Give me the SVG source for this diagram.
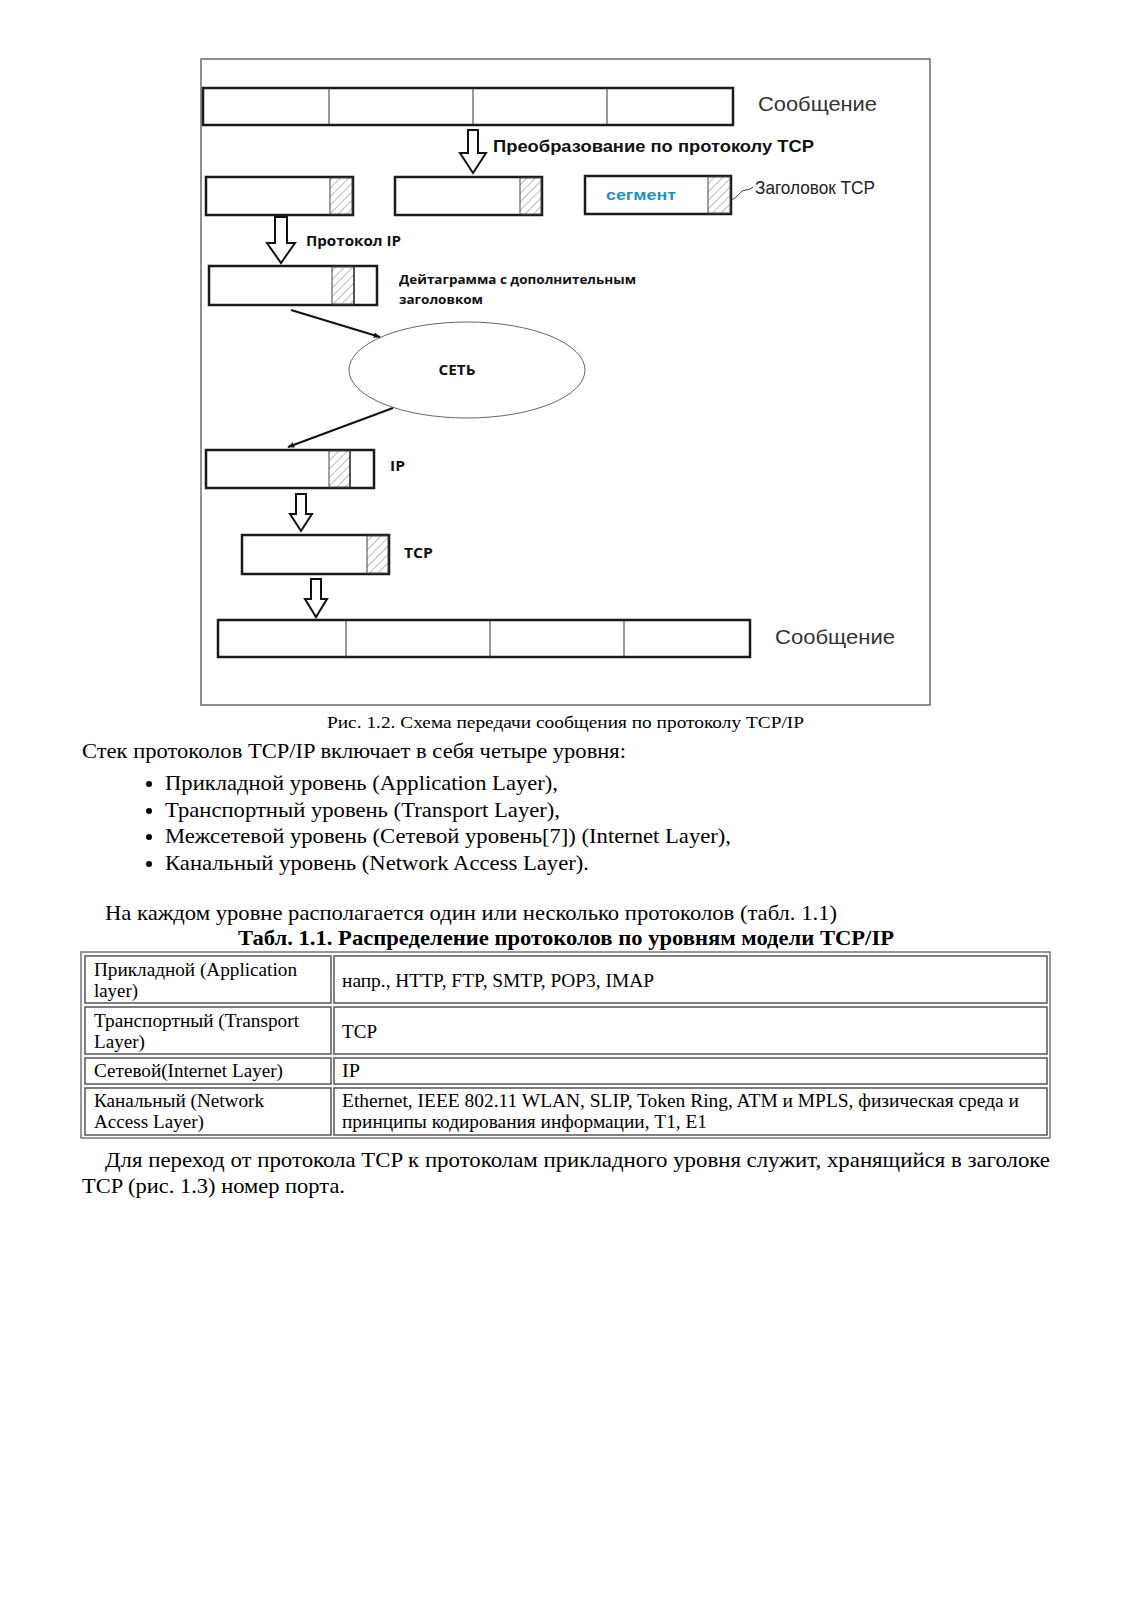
<svg xmlns="http://www.w3.org/2000/svg" width="1132" height="1600" viewBox="0 0 1132 1600">
<style>
.bx{fill:#fff;stroke:#1a1a1a;stroke-width:2.5}
.dv{stroke:#333;stroke-width:1}
.ha{fill:url(#hatch);stroke:#444;stroke-width:1}
.ar{fill:#fff;stroke:#111;stroke-width:2;stroke-linejoin:miter}
.sans{font-family:"Liberation Sans",Arial,sans-serif}
.bs{font-family:"Open Sans","Liberation Sans",sans-serif;font-weight:bold;fill:#111}
.serif{font-family:"Liberation Serif","Times New Roman",serif;fill:#000}
.cell{fill:#fff;stroke:#555;stroke-width:1.5}
</style>
<defs>
<pattern id="hatch" width="6" height="6" patternUnits="userSpaceOnUse" patternTransform="rotate(45)">
<rect width="6" height="6" fill="#fff"/>
<line x1="0" y1="0" x2="0" y2="6" stroke="#777" stroke-width="1"/>
</pattern>
<marker id="ah" viewBox="0 0 10 10" refX="9" refY="5" markerWidth="7" markerHeight="7" orient="auto" markerUnits="userSpaceOnUse">
<path d="M0,1 L10,5 L0,9 z" fill="#111"/>
</marker>
</defs>
<rect width="1132" height="1600" fill="#fff"/>
<rect x="201" y="59" width="729" height="646" fill="#fff" stroke="#555" stroke-width="1.3"/>

<g id="msg-top">
<rect class="bx" x="203" y="88" width="530" height="37" stroke-width="3"/>
<line class="dv" x1="329" y1="88" x2="329" y2="125"/>
<line class="dv" x1="473" y1="88" x2="473" y2="125"/>
<line class="dv" x1="607" y1="88" x2="607" y2="125"/>
<text class="sans" x="758" y="111" font-size="20" fill="#333" textLength="119" lengthAdjust="spacingAndGlyphs">Сообщение</text>
</g>

<g id="arrow-tcp">
<path class="ar" d="M468,130 H478 V153 H486 L473,173 L460,153 H468 Z"/>
<text class="sans" x="493" y="152" font-size="17" font-weight="bold" fill="#111" textLength="321" lengthAdjust="spacingAndGlyphs">Преобразование по протоколу TCP</text>
</g>

<g id="seg1">
<rect class="bx" x="206" y="177" width="147" height="38"/>
<rect class="ha" x="330" y="178" width="22" height="36"/>
</g>
<g id="seg2">
<rect class="bx" x="395" y="177" width="147" height="38"/>
<rect class="ha" x="520" y="178" width="21" height="36"/>
</g>
<g id="seg3">
<rect class="bx" x="585" y="176" width="146" height="38"/>
<rect class="ha" x="708" y="177" width="22" height="36"/>
<text class="sans" x="606" y="200" font-size="15" font-weight="bold" fill="#1e8fc8" textLength="70" lengthAdjust="spacingAndGlyphs">сегмент</text>
<path d="M731,200 C738,198 740,190 746,190 C749,190 751,188 753,187" fill="none" stroke="#333" stroke-width="1"/>
<text class="sans" x="755" y="194" font-size="19" fill="#222" textLength="120" lengthAdjust="spacingAndGlyphs">Заголовок TCP</text>
</g>

<g id="arrow-ip">
<path class="ar" d="M275,217 H287 V243 H295 L281,263 L267,243 H275 Z"/>
<text class="bs" x="306" y="246" font-size="14" textLength="95" lengthAdjust="spacingAndGlyphs">Протокол IP</text>
</g>

<g id="datagram">
<rect class="bx" x="209" y="266" width="168" height="39"/>
<rect class="ha" x="332" y="267" width="22" height="37"/>
<line x1="354" y1="267" x2="354" y2="304" stroke="#222" stroke-width="1.2"/>
<text class="bs" x="399" y="284" font-size="13" textLength="237" lengthAdjust="spacingAndGlyphs">Дейтаграмма с дополнительным</text>
<text class="bs" x="399" y="304" font-size="13" textLength="84" lengthAdjust="spacingAndGlyphs">заголовком</text>
</g>

<g id="network">
<ellipse cx="467" cy="370" rx="118" ry="48" fill="#fff" stroke="#555" stroke-width="0.9"/>
<text class="bs" x="457" y="375" font-size="14" text-anchor="middle" textLength="37" lengthAdjust="spacingAndGlyphs">СЕТЬ</text>
</g>

<g id="ip-box">
<rect class="bx" x="206" y="450" width="168" height="38"/>
<rect class="ha" x="329" y="451" width="21" height="36"/>
<line x1="350" y1="451" x2="350" y2="487" stroke="#222" stroke-width="1.2"/>
<text class="bs" x="390" y="471" font-size="14" textLength="15" lengthAdjust="spacingAndGlyphs">IP</text>
</g>

<g id="arrow-3">
<path class="ar" d="M296,494 H306 V514 H312 L301,531 L290,514 H296 Z"/>
</g>

<g id="tcp-box">
<rect class="bx" x="242" y="535" width="147" height="39"/>
<rect class="ha" x="367" y="536" width="21" height="37"/>
<text class="bs" x="404" y="558" font-size="14" textLength="29" lengthAdjust="spacingAndGlyphs">TCP</text>
</g>

<g id="arrow-4">
<path class="ar" d="M311,579 H321 V599 H327 L316,617 L305,599 H311 Z"/>
</g>

<g id="msg-bottom">
<rect class="bx" x="218" y="620" width="532" height="37" stroke-width="3"/>
<line class="dv" x1="346" y1="620" x2="346" y2="657"/>
<line class="dv" x1="490" y1="620" x2="490" y2="657"/>
<line class="dv" x1="624" y1="620" x2="624" y2="657"/>
<text class="sans" x="775" y="644" font-size="20" fill="#333" textLength="120" lengthAdjust="spacingAndGlyphs">Сообщение</text>
</g>

<g id="connectors">
<line x1="291" y1="310" x2="380" y2="337" stroke="#111" stroke-width="2" marker-end="url(#ah)"/>
<line x1="393" y1="408" x2="288" y2="447" stroke="#111" stroke-width="2" marker-end="url(#ah)"/>
</g>

<text class="serif" x="327" y="728" font-size="17.5" textLength="477" lengthAdjust="spacingAndGlyphs">Рис. 1.2. Схема передачи сообщения по протоколу TCP/IP</text>
<text class="serif" x="82" y="758" font-size="22" textLength="544" lengthAdjust="spacingAndGlyphs">Стек протоколов TCP/IP включает в себя четыре уровня:</text>
<g class="serif" font-size="22">
<circle cx="149" cy="784" r="3" fill="#000"/>
<text x="165" y="790" textLength="393" lengthAdjust="spacingAndGlyphs">Прикладной уровень (Application Layer),</text>
<circle cx="149" cy="811" r="3" fill="#000"/>
<text x="165" y="817" textLength="395" lengthAdjust="spacingAndGlyphs">Транспортный уровень (Transport Layer),</text>
<circle cx="149" cy="837" r="3" fill="#000"/>
<text x="165" y="843" textLength="566" lengthAdjust="spacingAndGlyphs">Межсетевой уровень (Сетевой уровень[7]) (Internet Layer),</text>
<circle cx="149" cy="864" r="3" fill="#000"/>
<text x="165" y="870" textLength="424" lengthAdjust="spacingAndGlyphs">Канальный уровень (Network Access Layer).</text>
</g>
<text class="serif" x="105" y="920" font-size="22" textLength="732" lengthAdjust="spacingAndGlyphs">На каждом уровне располагается один или несколько протоколов (табл. 1.1)</text>
<text class="serif" x="238" y="945" font-size="22" font-weight="bold" textLength="656" lengthAdjust="spacingAndGlyphs">Табл. 1.1. Распределение протоколов по уровням модели TCP/IP</text>

<g id="table">
<rect x="81" y="952" width="969" height="186" fill="none" stroke="#777" stroke-width="1.5"/>
<rect class="cell" x="85" y="956" width="246" height="47"/>
<rect class="cell" x="334" y="956" width="713" height="47"/>
<rect class="cell" x="85" y="1007" width="246" height="47"/>
<rect class="cell" x="334" y="1007" width="713" height="47"/>
<rect class="cell" x="85" y="1058" width="246" height="26"/>
<rect class="cell" x="334" y="1058" width="713" height="26"/>
<rect class="cell" x="85" y="1088" width="246" height="47"/>
<rect class="cell" x="334" y="1088" width="713" height="47"/>
<g class="serif" font-size="19.5">
<text x="94" y="976" textLength="203" lengthAdjust="spacingAndGlyphs">Прикладной (Application</text>
<text x="94" y="997" textLength="44" lengthAdjust="spacingAndGlyphs">layer)</text>
<text x="342" y="987" textLength="312" lengthAdjust="spacingAndGlyphs">напр., HTTP, FTP, SMTP, POP3, IMAP</text>
<text x="94" y="1027" textLength="205" lengthAdjust="spacingAndGlyphs">Транспортный (Transport</text>
<text x="94" y="1048" textLength="51" lengthAdjust="spacingAndGlyphs">Layer)</text>
<text x="342" y="1038" textLength="35" lengthAdjust="spacingAndGlyphs">TCP</text>
<text x="94" y="1077" textLength="189" lengthAdjust="spacingAndGlyphs">Сетевой(Internet Layer)</text>
<text x="342" y="1077" textLength="18" lengthAdjust="spacingAndGlyphs">IP</text>
<text x="94" y="1107" textLength="170" lengthAdjust="spacingAndGlyphs">Канальный (Network</text>
<text x="94" y="1128" textLength="110" lengthAdjust="spacingAndGlyphs">Access Layer)</text>
<text x="342" y="1107" textLength="677" lengthAdjust="spacingAndGlyphs">Ethernet, IEEE 802.11 WLAN, SLIP, Token Ring, ATM и MPLS, физическая среда и</text>
<text x="342" y="1128" textLength="365" lengthAdjust="spacingAndGlyphs">принципы кодирования информации, T1, E1</text>
</g>
</g>

<text class="serif" x="105" y="1167" font-size="22" textLength="945" lengthAdjust="spacingAndGlyphs">Для переход от протокола TCP к протоколам прикладного уровня служит, хранящийся в заголоке</text>
<text class="serif" x="82" y="1193" font-size="22" textLength="263" lengthAdjust="spacingAndGlyphs">TCP (рис. 1.3) номер порта.</text>
</svg>
